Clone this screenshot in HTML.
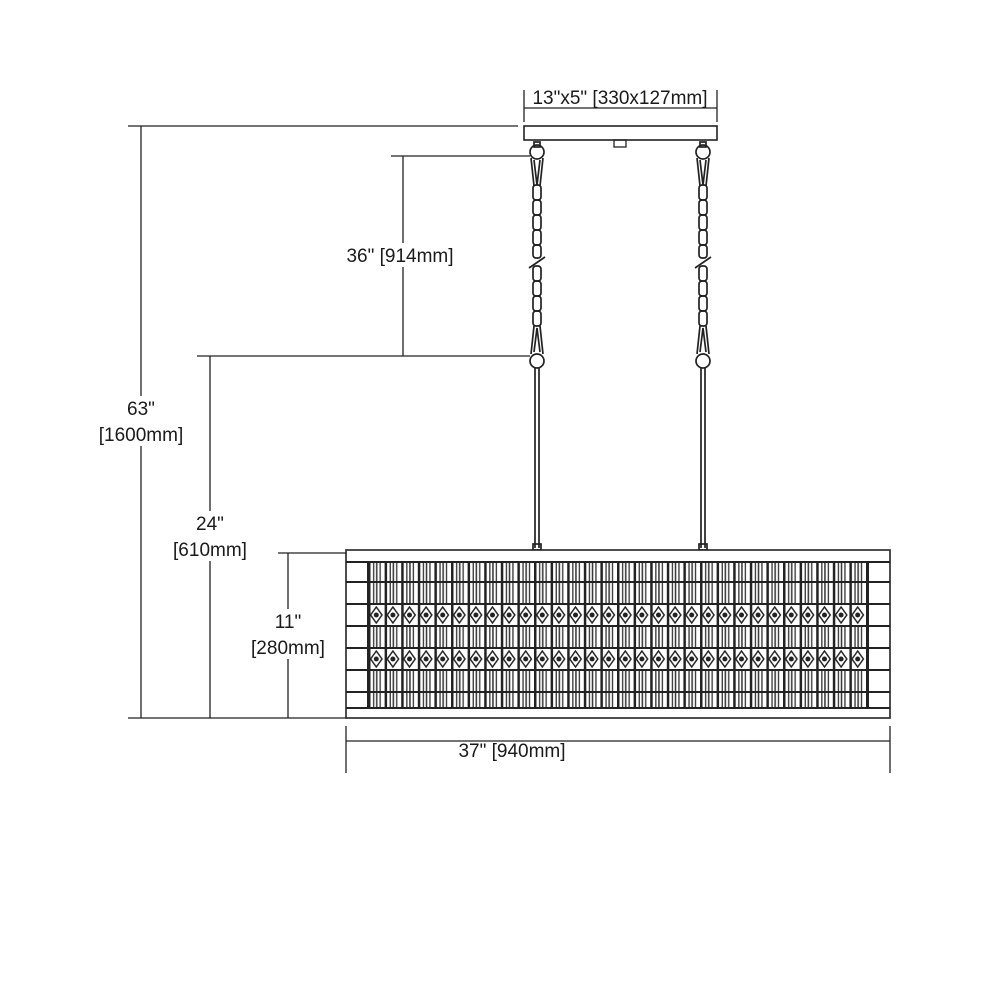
<!DOCTYPE html>
<html><head><style>
body{margin:0;background:#fff}
svg{display:block}
text{font-family:"Liberation Sans",Arial,sans-serif;font-size:19px;fill:#1a1a1a}
</style></head><body>
<svg width="1000" height="1000" viewBox="0 0 1000 1000" xmlns="http://www.w3.org/2000/svg">
<defs>
<pattern id="vp" x="368" y="0" width="16.6" height="1000" patternUnits="userSpaceOnUse">
<rect x="0" y="0" width="2.5" height="1000" fill="#222"/>
<rect x="5" y="0" width="1.3" height="1000" fill="#333"/>
<rect x="8" y="0" width="1.5" height="1000" fill="#333"/>
<rect x="11.5" y="0" width="1.3" height="1000" fill="#333"/>
</pattern>
<pattern id="dp" x="368" y="604" width="16.6" height="44" patternUnits="userSpaceOnUse">
<rect x="0" y="0" width="2.5" height="22" fill="#222"/>
<path d="M8.3 3 L14 11 L8.3 19 L2.6 11 Z" fill="none" stroke="#222" stroke-width="1.5"/>
<circle cx="8.3" cy="11" r="2.5" fill="#222"/>
</pattern>
</defs>
<g stroke="#222" stroke-width="1.3" fill="none">
<line x1="524" y1="90" x2="524" y2="122"/><line x1="717" y1="90" x2="717" y2="122"/>
<line x1="524" y1="108" x2="717" y2="108"/>
<rect x="524" y="126" width="193" height="14" stroke-width="1.6"/>
<rect x="614" y="140" width="12" height="7"/>
<line x1="128" y1="126" x2="518" y2="126"/>
<line x1="141" y1="126" x2="141" y2="718"/>
<line x1="128" y1="718" x2="346" y2="718"/>
<line x1="391" y1="156" x2="530" y2="156"/>
<line x1="403" y1="156" x2="403" y2="356"/>
<line x1="197" y1="356" x2="530" y2="356"/>
<line x1="210" y1="356" x2="210" y2="718"/>
<line x1="278" y1="553" x2="346" y2="553"/>
<line x1="288" y1="553" x2="288" y2="718"/>
<line x1="346" y1="726" x2="346" y2="773"/><line x1="890" y1="726" x2="890" y2="773"/>
<line x1="346" y1="741" x2="890" y2="741"/>
</g>
<g stroke="#222" stroke-width="1.7" fill="none">
<g id="ch">
<circle cx="537" cy="152" r="7"/>
<rect x="534" y="142" width="6" height="5"/>
<path d="M531 158 L534 186 M543 158 L540 186 M534 160 L537 185 L540 160"/>
<rect x="533" y="185" width="8" height="15" rx="3"/>
<rect x="533" y="200" width="8" height="15" rx="3"/>
<rect x="533" y="215" width="8" height="15" rx="3"/>
<rect x="533" y="230" width="8" height="15" rx="3"/>
<rect x="533" y="245" width="8" height="13" rx="3"/>
<path d="M529 268 L545 257"/>
<rect x="533" y="266" width="8" height="15" rx="3"/>
<rect x="533" y="281" width="8" height="15" rx="3"/>
<rect x="533" y="296" width="8" height="15" rx="3"/>
<rect x="533" y="311" width="8" height="15" rx="3"/>
<path d="M534 326 L531 354 M540 326 L543 354 M534 352 L537 328 L540 352"/>
<circle cx="537" cy="361" r="7"/>
<path d="M535 368 L535 548 M539 368 L539 548"/>
<rect x="533" y="544" width="8" height="6"/>
</g>
<use href="#ch" transform="translate(166,0)"/>
</g>
<rect x="346" y="550" width="544" height="168" fill="#fff" stroke="#222" stroke-width="1.6"/>
<rect x="368" y="562" width="500" height="146" fill="url(#vp)"/>
<rect x="368" y="604" width="500" height="22" fill="#fff"/>
<rect x="368" y="604" width="500" height="22" fill="url(#dp)"/>
<rect x="368" y="648" width="500" height="22" fill="#fff"/>
<rect x="368" y="648" width="500" height="22" fill="url(#dp)"/>
<g stroke="#222" stroke-width="2">
<line x1="346" y1="562" x2="890" y2="562"/>
<line x1="346" y1="582" x2="890" y2="582"/>
<line x1="346" y1="604" x2="890" y2="604"/>
<line x1="346" y1="626" x2="890" y2="626"/>
<line x1="346" y1="648" x2="890" y2="648"/>
<line x1="346" y1="670" x2="890" y2="670"/>
<line x1="346" y1="692" x2="890" y2="692"/>
<line x1="346" y1="708" x2="890" y2="708"/>
<line x1="368" y1="562" x2="368" y2="708"/>
<line x1="868" y1="562" x2="868" y2="708"/>
</g>
<text x="620" y="104" text-anchor="middle">13"x5" [330x127mm]</text>
<rect x="340" y="243" width="126" height="24" fill="#fff"/>
<text x="400" y="262" text-anchor="middle">36" [914mm]</text>
<rect x="98" y="396" width="94" height="50" fill="#fff"/>
<text x="141" y="415" text-anchor="middle">63"</text>
<text x="141" y="441" text-anchor="middle">[1600mm]</text>
<rect x="166" y="511" width="88" height="50" fill="#fff"/>
<text x="210" y="530" text-anchor="middle">24"</text>
<text x="210" y="556" text-anchor="middle">[610mm]</text>
<rect x="244" y="609" width="88" height="50" fill="#fff"/>
<text x="288" y="628" text-anchor="middle">11"</text>
<text x="288" y="654" text-anchor="middle">[280mm]</text>
<text x="512" y="757" text-anchor="middle">37" [940mm]</text>
</svg>
</body></html>
